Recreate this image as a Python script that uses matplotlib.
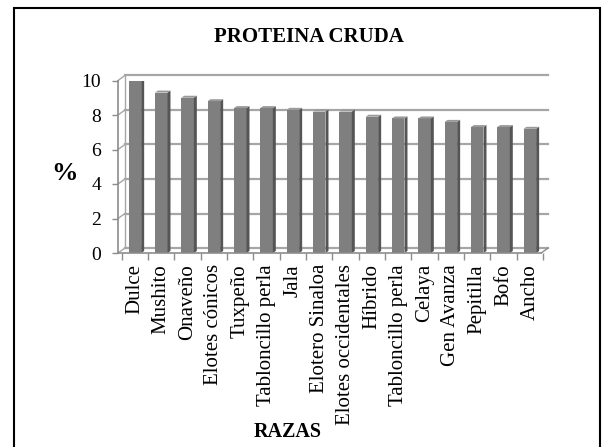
import matplotlib
matplotlib.use("Agg")
import matplotlib.pyplot as plt
from matplotlib.patches import Rectangle

razas = [
    "Dulce", "Mushito", "Onaveño", "Elotes cónicos", "Tuxpeño",
    "Tabloncillo perla", "Jala", "Elotero Sinaloa", "Elotes occidentales",
    "Híbrido", "Tabloncillo perla", "Celaya", "Gen Avanza", "Pepitilla",
    "Bofo", "Ancho",
]
proteina = [10.2, 9.3, 9.0, 8.8, 8.4, 8.4, 8.3, 8.2, 8.2,
            7.9, 7.8, 7.8, 7.6, 7.3, 7.3, 7.2]
y_ticks = [0, 2, 4, 6, 8, 10]

SERIF = ["Liberation Serif", "DejaVu Serif"]
plt.rcParams["font.family"] = SERIF

W, H = 605, 447
fig = plt.figure(figsize=(W / 100, H / 100), dpi=100)
fig.patch.set_facecolor("white")

# outer frame
fig.add_artist(Rectangle((14 / W, -0.05), 586 / W, (H - 8) / H + 0.05,
                         transform=fig.transFigure, fill=False,
                         ec="black", lw=1.5))

ax = fig.add_axes([118 / W, 1 - 253 / H, 425 / W, 172.5 / H])
x0, x1 = -0.64, 15.43
ax.set_xlim(x0, x1)
ax.set_ylim(0, 10)
for s in ax.spines.values():
    s.set_visible(False)

grid_c = "#a6a6a6"
axis_c = "#8c8c8c"


def to_back(x, y, dx=7, dy=5):
    px, py = ax.transData.transform((x, y))
    return ax.transData.inverted().transform((px + dx, py + dy))


# back wall gridlines with left wall diagonals
for yv in y_ticks:
    bx0, by0 = to_back(x0, yv)
    bx1, by1 = to_back(x1, yv)
    ax.plot([bx0, bx1], [by0, by1], color=grid_c, lw=1.6, clip_on=False, zorder=1)
    ax.plot([x0, bx0], [yv, by0], color=grid_c, lw=1.0, clip_on=False, zorder=1)
bx, by_bot = to_back(x0, 0)
_, by_top = to_back(x0, 10)
ax.plot([bx, bx], [by_bot, by_top], color=grid_c, lw=1.0, clip_on=False, zorder=1)

# floor right edge
rx, ry = to_back(x1, 0)
ax.plot([x1, rx], [0, ry], color=axis_c, lw=1.0, clip_on=False, zorder=1)

# bars: front face + darker side + lighter top
xs = list(range(len(razas)))
bw = 0.48
ax.bar(xs, proteina, width=bw, color="#7f7f7f", zorder=3)
for x, v in zip(xs, proteina):
    xr = x + bw / 2
    sx0, sy0 = to_back(xr, 0, 3, 2)
    sx1, sy1 = to_back(xr, v, 3, 2)
    ax.fill([xr, sx0, sx1, xr], [0, sy0, sy1, v], color="#555555", lw=0, zorder=3)
    tx0, ty0 = to_back(x - bw / 2, v, 3, 2)
    ax.fill([x - bw / 2, xr, sx1, tx0], [v, v, sy1, ty0], color="#9a9a9a", lw=0, zorder=3)

# front axes
ax.plot([x0, x0], [0, 10], color=axis_c, lw=1.2, clip_on=False, zorder=4)
ax.plot([x0, x1], [0, 0], color=axis_c, lw=1.2, clip_on=False, zorder=4)

ax.set_yticks(y_ticks)
ax.set_yticklabels([str(t) for t in y_ticks], fontsize=14)
ax.tick_params(axis="y", length=4, width=1, color=axis_c, pad=8)

ax.set_xticks(xs)
ax.set_xticklabels(razas, rotation=90, fontsize=15, va="top", ha="center")
ax.set_xticks([x - 0.5 for x in xs] + [xs[-1] + 0.5], minor=True)
ax.tick_params(axis="x", which="major", length=0, pad=8)
ax.tick_params(axis="x", which="minor", length=5, width=1, color=axis_c)

fig.text(309 / W, 1 - 37 / H, "PROTEINA CRUDA", ha="center", va="center",
         fontsize=15, fontweight="bold")
fig.text(64 / W, 1 - 174 / H, "%", ha="center", va="center",
         fontsize=19, fontweight="bold")
fig.text(288 / W, 1 - 432 / H, "RAZAS", ha="center", va="center",
         fontsize=14.5, fontweight="bold")

fig.savefig("out.png", dpi=100, facecolor="white")
